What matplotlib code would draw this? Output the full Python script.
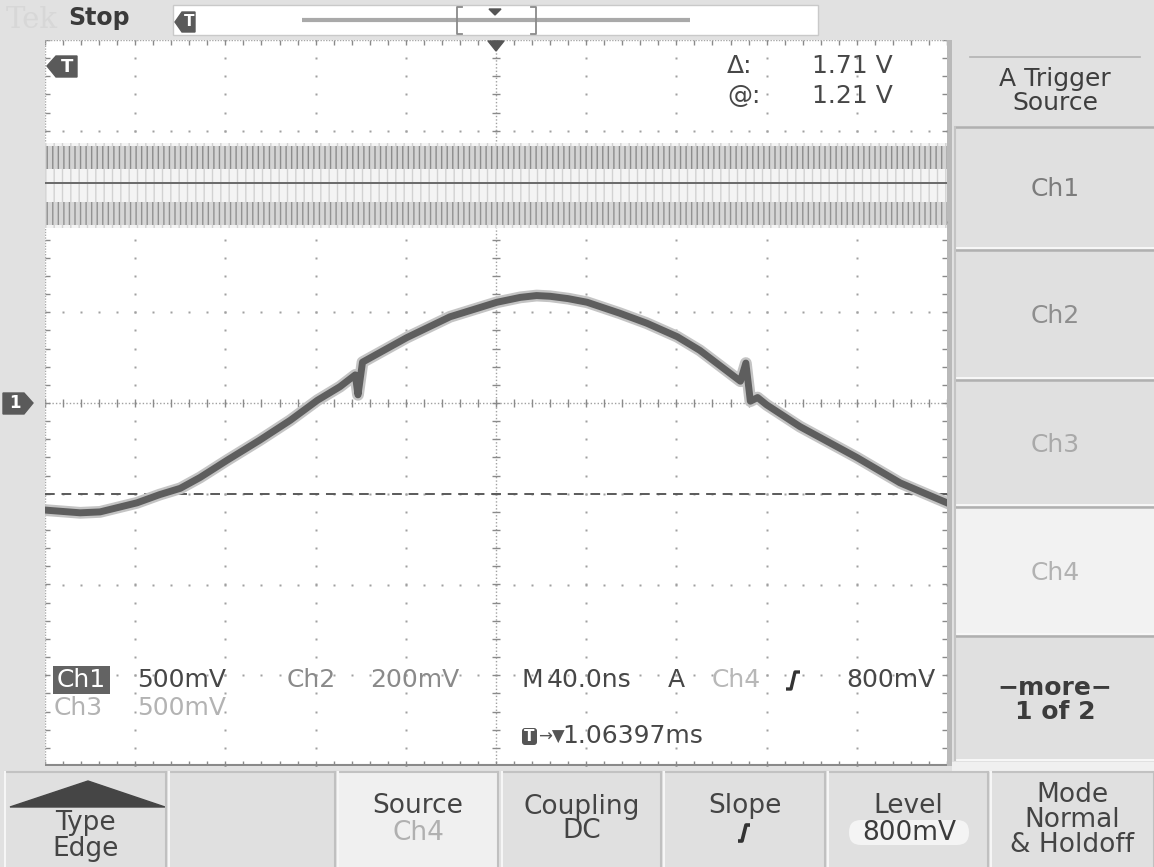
import numpy as np
import matplotlib.pyplot as plt
from matplotlib.patches import Rectangle, Polygon, FancyBboxPatch

plt.rcParams['font.family'] = ['DejaVu Sans']
plt.rcParams['hatch.linewidth'] = 1.0

# Ch1 trace: time from left edge [ns], volts from Ch1 ground
t_ns = [0, 15.6, 24.4, 40.8, 50.8, 60.0, 68.8, 80.8, 95.2, 108.8, 120.8, 130.8,
        137.6, 138.8, 140.8, 160.4, 179.6, 190.0, 200.4, 210.8, 218.0, 224.0,
        232.0, 240.4, 254.8, 266.8, 280.4, 290.4, 308.4, 310.8, 312.8, 316.0,
        320.0, 334.8, 360.0, 379.2, 400.0]
ch1_v = [-0.59, -0.605, -0.60, -0.55, -0.505, -0.47, -0.41, -0.315, -0.205,
         -0.095, 0.015, 0.09, 0.155, 0.045, 0.225, 0.36, 0.475, 0.515, 0.555,
         0.582, 0.592, 0.588, 0.575, 0.555, 0.495, 0.44, 0.365, 0.29, 0.12,
         0.22, 0.01, 0.03, -0.01, -0.13, -0.30, -0.44, -0.55]

ns_per_div = 40.0
v_per_div = 0.5

# cursor readout (Ch1)
delta_v = 1.71
at_v = 1.21

# fast signal band at the top, in divisions: bottom, lower-cluster top,
# upper-cluster bottom, top
band_levels = [1.93, 2.22, 2.58, 2.86]

# menu texts
side_labels = ['Ch1', 'Ch2', 'Ch3', 'Ch4', '\u2212more\u2212\n1 of 2']
side_colors = ['#7c7c7c', '#8e8e8e', '#a9a9a9', '#b2b2b2', '#3c3c3c']
side_edges = [127, 250, 380, 507, 636, 762]

bottom_labels = ['Type\nEdge', '', 'Source', 'Coupling\nDC', 'Slope', 'Level',
                 'Mode\nNormal\n& Holdoff']
bottom_edges = [(5, 166), (169, 335), (338, 498), (502, 661), (664, 825),
                (828, 988), (991, 1154)]

W, H = 1154, 867
fig = plt.figure(figsize=(W / 100, H / 100), dpi=100)
fig.patch.set_facecolor('#e1e1e1')

bg = fig.add_axes([0, 0, 1, 1], zorder=0)
bg.set_xlim(0, W)
bg.set_ylim(H, 0)
bg.axis('off')

sx0, sx1, sy0, sy1 = 45, 947, 40, 766
sc = fig.add_axes([sx0 / W, 1 - sy1 / H, (sx1 - sx0) / W, (sy1 - sy0) / H], zorder=1)
sc.set_xlim(0, 10)
sc.set_ylim(-4, 4)
sc.set_facecolor('white')
for s in sc.spines.values():
    s.set_visible(False)
sc.set_xticks([])
sc.set_yticks([])

ov = fig.add_axes([0, 0, 1, 1], zorder=2)
ov.set_xlim(0, W)
ov.set_ylim(H, 0)
ov.axis('off')
ov.patch.set_alpha(0)

# ---- bezel / top bar
bg.text(6, 20, 'Tek', family='DejaVu Serif', fontsize=21, color='#d7d7d7', va='center')
bg.text(68, 18, 'Stop', fontsize=17, fontweight='bold', color='#3a3a3a', va='center')
bg.add_patch(Rectangle((173, 5), 645, 30, facecolor='white', edgecolor='#c9c9c9', lw=1))
bg.plot([302, 690], [20, 20], color='#a9a9a9', lw=3, solid_capstyle='butt')
bg.plot([462, 457, 457, 462], [7, 7, 34, 34], color='#8a8a8a', lw=1.3)
bg.plot([531, 536, 536, 531], [7, 7, 34, 34], color='#8a8a8a', lw=1.3)
bg.add_patch(Polygon([(489, 9), (501, 9), (495, 15)], color='#555555'))
bg.add_patch(Polygon([(175, 22), (182, 12), (195, 12), (195, 32), (182, 32)],
                     color='#5a5a5a'))
bg.text(189, 22, 'T', color='white', fontsize=11, fontweight='bold', ha='center', va='center')

# right bar of the screen
bg.add_patch(Rectangle((946, 40), 6, 726, facecolor='#b9b9b9', edgecolor='none'))

# ---- side menu
bg.plot([970, 1140], [57, 57], color='#b3b3b3', lw=1.2)
bg.text(1055, 91, 'A Trigger\nSource', fontsize=18, color='#3e3e3e', ha='center',
        va='center', linespacing=1.0)
for i, lab in enumerate(side_labels):
    ya, yb = side_edges[i], side_edges[i + 1]
    face = '#f2f2f2' if lab == 'Ch4' else '#e0e0e0'
    bg.add_patch(Rectangle((955, ya), W - 955, yb - ya - 2, facecolor=face, edgecolor='none'))
    bg.plot([955, W], [ya, ya], color='#b0b0b0', lw=1.8)
    bg.plot([955, W], [yb - 2, yb - 2], color='#f7f7f7', lw=1.5)
    bg.plot([955, 955], [ya, yb - 2], color='#c4c4c4', lw=1.5)
    bold = 'bold' if i == 4 else 'normal'
    bg.text(1055, (ya + yb) / 2 + 1, lab, fontsize=18, color=side_colors[i], ha='center',
            va='center', linespacing=1.05, fontweight=bold)

# ---- bottom menu
bg.add_patch(Rectangle((952, 762), W - 952, 10, facecolor='#f0f0f0', edgecolor='none'))
for (xa, xb), lab in zip(bottom_edges, bottom_labels):
    face = '#f0f0f0' if lab == 'Source' else '#e0e0e0'
    bg.add_patch(Rectangle((xa, 772), xb - xa, H - 772, facecolor=face, edgecolor='none'))
    bg.plot([xa, xb], [772, 772], color='#c2c2c2', lw=1.5)
    bg.plot([xa, xa], [772, H], color='#f6f6f6', lw=1.5)
    bg.plot([xb, xb], [772, H], color='#c0c0c0', lw=1.5)
    xc = (xa + xb) / 2
    if not lab:
        continue
    if lab.startswith('Type'):
        bg.add_patch(Polygon([(10, 807), (165, 807), (88, 781)], color='#454545'))
        yc = 836
    elif lab.startswith('Mode'):
        yc = 820
    elif '\n' in lab:
        yc = 819
    else:
        yc = 806
    bg.text(xc, yc, lab, fontsize=19, color='#444444', ha='center', va='center',
            linespacing=0.95)

bg.text(418, 833, 'Ch4', fontsize=19, color='#b0b0b0', ha='center', va='center')
bg.plot([738, 742, 746, 750], [841, 841, 825, 825], color='#333333', lw=2.6,
        solid_capstyle='butt')
bg.add_patch(FancyBboxPatch((849, 820), 120, 25, boxstyle='round,pad=0,rounding_size=12',
                            facecolor='#f4f4f4', edgecolor='none'))
bg.text(909, 833, '800mV', fontsize=19, color='#3c3c3c', ha='center', va='center')

# ---- graticule
gc = '#a0a0a0'
minor_x = np.arange(0, 10.001, 0.2)
minor_y = np.arange(-4, 4.001, 0.2)
for gx in range(1, 10):
    if gx != 5:
        sc.plot(np.full_like(minor_y, gx), minor_y, ls='none', marker='s', ms=1.5,
                mec='none', color=gc)
for gy in range(-3, 4):
    if gy != 0:
        sc.plot(minor_x, np.full_like(minor_x, gy), ls='none', marker='s', ms=1.5,
                mec='none', color=gc)
sc.axvline(5, color=gc, lw=1, ls=(0, (1, 1.5)))
sc.axhline(0, color=gc, lw=1, ls=(0, (1, 1.5)))
sc.vlines(minor_x, -0.045, 0.045, color='#8a8a8a', lw=1)
sc.hlines(minor_y, 5 - 0.045, 5 + 0.045, color='#8a8a8a', lw=1)
sc.vlines(minor_x, 4 - 0.06, 4, color='#8a8a8a', lw=1)
sc.vlines(minor_x, -4, -4 + 0.06, color='#8a8a8a', lw=1)
sc.hlines(minor_y, 0, 0.06, color='#8a8a8a', lw=1)
sc.hlines(minor_y, 10 - 0.06, 10, color='#8a8a8a', lw=1)
sc.axhline(4, color='#a8a8a8', lw=1, ls=(0, (1, 1)))
sc.axvline(0, color='#a8a8a8', lw=1, ls=(0, (1, 1)))
sc.axhline(-4 + 0.01, color='#8a8a8a', lw=1.5)

# ---- fast signal band
bx = [0, 10]
sc.fill_between(bx, band_levels[0], band_levels[3], facecolor='#f4f4f4',
                edgecolor='#d2d2d2', hatch='||', lw=0, zorder=3)
sc.fill_between(bx, band_levels[2], band_levels[3] - 0.03, facecolor='#d3d3d3',
                edgecolor='#8c8c8c', hatch='|||', lw=0, zorder=3)
sc.fill_between(bx, band_levels[0] + 0.03, band_levels[1], facecolor='#d6d6d6',
                edgecolor='#929292', hatch='|||', lw=0, zorder=3)

# ---- cursors
cur_a = at_v / v_per_div
cur_b = (at_v - delta_v) / v_per_div
sc.axhline(cur_a, color='#6a6a6a', lw=1.4, zorder=4)
sc.axhline(cur_b, color='#5a5a5a', lw=1.4, ls=(0, (5, 3.5)), zorder=4)

# ---- Ch1 trace
tx = np.array(t_ns) / ns_per_div
ty = np.array(ch1_v) / v_per_div
sc.plot(tx, ty, color='#c4c4c4', lw=8.5, zorder=5, solid_joinstyle='round')
sc.plot(tx, ty, color='#5e5e5e', lw=5, zorder=6, solid_joinstyle='round')

# ---- markers on the screen
ov.add_patch(Polygon([(488, 41), (504, 41), (496, 51)], color='#555555'))
ov.add_patch(Polygon([(47, 66), (56, 56), (77, 56), (77, 77), (56, 77)], color='#5a5a5a'))
ov.text(67, 66.5, 'T', color='white', fontsize=13, fontweight='bold', ha='center', va='center')
ov.add_patch(Polygon([(3, 393), (24, 393), (33, 403), (24, 414), (3, 414)], color='#5a5a5a'))
ov.text(15, 403.5, '1', color='white', fontsize=12, fontweight='bold', ha='center', va='center')

# ---- readouts
fs = 18
dark = '#474747'
ov.text(727, 66, '\u0394:', fontsize=fs, color=dark, va='center')
ov.text(727, 96, '@:', fontsize=fs, color=dark, va='center')
ov.text(893, 66, f'{delta_v:.2f} V', fontsize=fs, color=dark, va='center', ha='right')
ov.text(893, 96, f'{at_v:.2f} V', fontsize=fs, color=dark, va='center', ha='right')

ov.add_patch(Rectangle((53, 666), 57, 28, facecolor='#636363', edgecolor='none'))
ov.text(81, 680, 'Ch1', fontsize=fs, color='white', ha='center', va='center')
ov.text(137, 680, '500mV', fontsize=fs, color=dark, va='center')
ov.text(287, 680, 'Ch2', fontsize=fs, color='#8a8a8a', va='center')
ov.text(370, 680, '200mV', fontsize=fs, color='#8a8a8a', va='center')
ov.text(54, 708, 'Ch3', fontsize=fs, color='#b3b3b3', va='center')
ov.text(137, 708, '500mV', fontsize=fs, color='#b3b3b3', va='center')
ov.text(521, 680, 'M', fontsize=fs, color=dark, va='center')
ov.text(547, 680, '40.0ns', fontsize=fs, color=dark, va='center')
ov.text(668, 680, 'A', fontsize=fs, color=dark, va='center')
ov.text(712, 680, 'Ch4', fontsize=fs, color='#b8b8b8', va='center')
ov.plot([786, 791, 795, 800], [689, 689, 672, 672], color='#333333', lw=2.4,
        solid_capstyle='butt')
ov.text(935, 680, '800mV', fontsize=fs, color=dark, va='center', ha='right')

ov.add_patch(FancyBboxPatch((522, 728), 15, 17, boxstyle='round,pad=0,rounding_size=3',
                            facecolor='#555555', edgecolor='none'))
ov.text(529.5, 736.5, 'T', fontsize=11, color='white', fontweight='bold',
        ha='center', va='center')
ov.text(538, 737, '\u2192\u25bc', fontsize=12, color='#555555', va='center')
ov.text(562, 736, '1.06397ms', fontsize=fs, color=dark, va='center')

fig.savefig('out.png', dpi=100, facecolor=fig.get_facecolor())
